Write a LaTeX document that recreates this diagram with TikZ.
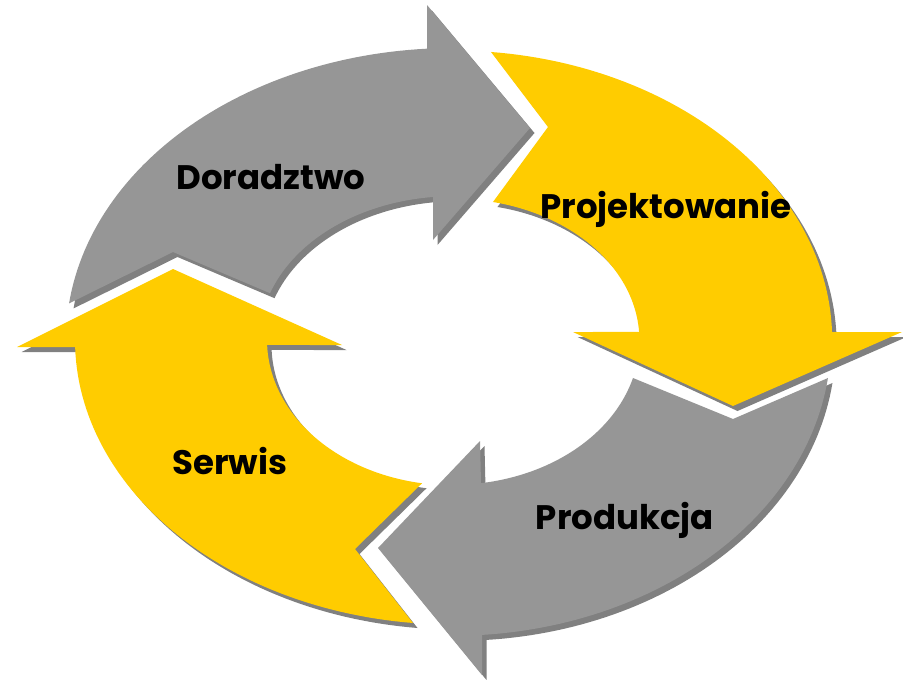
\documentclass[tikz,border=0pt]{standalone}
\usepackage{fontspec}
\setmainfont{Poppins}
\definecolor{arrgray}{RGB}{150,150,150}
\definecolor{arryellow}{RGB}{255,204,0}
\definecolor{shadowc}{RGB}{128,128,128}
\begin{document}
\begin{tikzpicture}[x=1pt,y=-1pt,
  shadowpart/.style={fill=shadowc, shift={(4.5,5)}},
  lbl/.style={font=\bfseries\fontsize{34}{40}\selectfont, text=black, inner sep=0pt, anchor=base},
  gtop/.style={insert path={(69.1,303.4) -- plot[domain=187.2:266.15,samples=60,variable=\t] ({453+387*cos(\t)},{340+292*sin(\t)}) -- (427,5) -- (530,128) -- (433,240) -- plot[domain=264.07:199.0,samples=50,variable=\t] ({453+193.5*cos(\t)},{340+143.8*sin(\t)}) -- (173,252) -- cycle}},
  yright/.style={insert path={(491,52) -- plot[domain=275.75:358.42,samples=60,variable=\t] ({453+379.2*cos(\t)},{340+289.5*sin(\t)}) -- (902,332) -- (733,406) -- (573,332) -- plot[domain=356.75:282.39,samples=50,variable=\t] ({453+186.4*cos(\t)},{340+141.3*sin(\t)}) -- (548,127) -- cycle}},
  gbottom/.style={insert path={(828,378) -- plot[domain=7.38:85.6,samples=60,variable=\t] ({453+378.1*cos(\t)},{340+295.8*sin(\t)}) -- (482,675) -- (378,548) -- (480,441) -- plot[domain=81.36:15.21,samples=50,variable=\t] ({453+186.5*cos(\t)},{340+144.8*sin(\t)}) -- (733,419) -- cycle}},
  yleft/.style={insert path={(413,623) -- plot[domain=96.07:178.59,samples=60,variable=\t] ({453+378*cos(\t)},{340+284.6*sin(\t)}) -- (17,347) -- (173,269) -- (342,345) -- plot[domain=178.03:99.59,samples=50,variable=\t] ({453+186*cos(\t)},{340+145.3*sin(\t)}) -- (355,549) -- cycle}}
]
\useasboundingbox (0,0) rectangle (903,680);
% shadows
\fill[shadowpart, gtop];
\fill[shadowpart, yright];
\fill[shadowpart, gbottom];
\fill[shadowpart, yleft];
% arrows
\fill[arrgray, gtop];
\fill[arryellow, yright];
\fill[arrgray, gbottom];
\fill[arryellow, yleft];
% labels
\node[lbl] (doradztwo) at (271,189) {Doradztwo};
\node[lbl] (projektowanie) at (666,218) {Projektowanie};
\node[lbl] (serwis) at (230,474) {Serwis};
\node[lbl] (produkcja) at (625,529) {Produkcja};
\end{tikzpicture}
\end{document}
